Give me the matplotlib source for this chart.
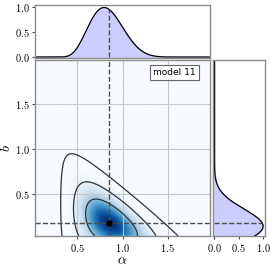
import numpy as np
import matplotlib
matplotlib.use('Agg')
import matplotlib.pyplot as plt

plt.rcParams['mathtext.fontset'] = 'cm'

# values
alpha_lim = (0.03, 1.97)
b_lim = (0.04, 1.98)
alpha_ticks = [0.5, 1.0, 1.5]
b_ticks = [0.5, 1.0, 1.5]
marg_ticks = [0.0, 0.5, 1.0]
best_alpha = 0.85
best_b = 0.18
label_text = 'model 11'

# triangular posterior fitted to the contour outlines of the picture
tri_left = 0.27      # left side (alpha)
tri_right = 2.25     # long side meets b = b_offset here
tri_slope = 1.2      # long side: alpha + slope*b = const
b_offset = -0.398    # bottom side
sharpness = 17.24
contour_levels = [1.27e-4, 0.067, 0.40]


def log_post(al, bb):
    L = tri_right - tri_left
    u = (al - tri_left) / L
    w = tri_slope * (bb - b_offset) / L
    v = 1 - u - w
    us = (best_alpha - tri_left) / L
    ws = tri_slope * (best_b - b_offset) / L
    vs = 1 - us - ws
    bad = (u <= 0) | (w <= 0) | (v <= 0)
    with np.errstate(all='ignore'):
        f = us * np.log(u / us) + ws * np.log(w / ws) + vs * np.log(v / vs)
    return np.where(bad, -1e9, f)


a = np.linspace(alpha_lim[0], alpha_lim[1], 400)
b = np.linspace(b_lim[0], b_lim[1], 400)
A, B = np.meshgrid(a, b)
P = np.exp(sharpness * log_post(A, B))

marg_a = P.sum(axis=0)
marg_a = marg_a / marg_a.max()
marg_b = P.sum(axis=1)
marg_b = marg_b / marg_b.max()

W, H = 274, 268
fig = plt.figure(figsize=(W / 100, H / 100), dpi=100)
ax = fig.add_axes([35 / W, 1 - 236 / H, 175 / W, 176 / H])
axt = fig.add_axes([35 / W, 1 - 57.5 / H, 175 / W, 52.5 / H])
axr = fig.add_axes([213 / W, 1 - 236 / H, 52 / W, 176 / H])

spine_c = '0.55'
dash_c = '0.3'
fill_c = '#ccccff'

ax.imshow(P, extent=[a[0], a[-1], b[0], b[-1]], origin='lower', aspect='auto',
          cmap='Blues', interpolation='bilinear', vmin=0, vmax=1)
ax.contour(A, B, P, levels=contour_levels, colors='0.2', linewidths=0.9)
ax.axvline(best_alpha, color=dash_c, ls='--', lw=1)
ax.axhline(best_b, color=dash_c, ls='--', lw=1)
ax.plot([best_alpha], [best_b], 'o', color='k', ms=3.5)
ax.set_xlim(alpha_lim)
ax.set_ylim(b_lim)
ax.set_xticks(alpha_ticks, labels=['$%.1f$' % t for t in alpha_ticks])
ax.set_yticks(b_ticks, labels=['$%.1f$' % t for t in b_ticks])
ax.grid(True, color='0.78', lw=0.8)
ax.set_xlabel(r'$\alpha$', fontsize=10)
ax.set_ylabel(r'$b$', fontsize=10)
ax.xaxis.set_label_coords(0.5, -0.1)
ax.yaxis.set_label_coords(-0.128, 0.5)
ax.text(0.92, 0.955, label_text, transform=ax.transAxes, ha='right', va='top',
        fontsize=6.5, bbox=dict(boxstyle='square,pad=0.35', fc='white', ec='0.4', lw=0.8))

axt.fill_between(a, 0, marg_a, color=fill_c)
axt.plot(a, marg_a, color='k', lw=0.9)
axt.plot([best_alpha, best_alpha], [0, np.interp(best_alpha, a, marg_a)], color=dash_c, ls='--', lw=1)
axt.set_xlim(alpha_lim)
axt.set_ylim(-0.01, 1.05)
axt.set_xticks([])
axt.set_yticks(marg_ticks, labels=['$%.1f$' % t for t in marg_ticks])

axr.fill_betweenx(b, 0, marg_b, color=fill_c)
axr.plot(marg_b, b, color='k', lw=0.9)
axr.plot([0, np.interp(best_b, b, marg_b)], [best_b, best_b], color=dash_c, ls='--', lw=1)
axr.set_ylim(b_lim)
axr.set_xlim(-0.03, 1.04)
axr.set_yticks([])
axr.set_xticks(marg_ticks, labels=['$%.1f$' % t for t in marg_ticks])

for x in (ax, axt, axr):
    for s in x.spines.values():
        s.set_color(spine_c)
        s.set_linewidth(1)
    x.tick_params(labelsize=7.5, length=2.5, width=0.8, color='0.3', pad=1.5)

fig.savefig('out.png', dpi=100)
